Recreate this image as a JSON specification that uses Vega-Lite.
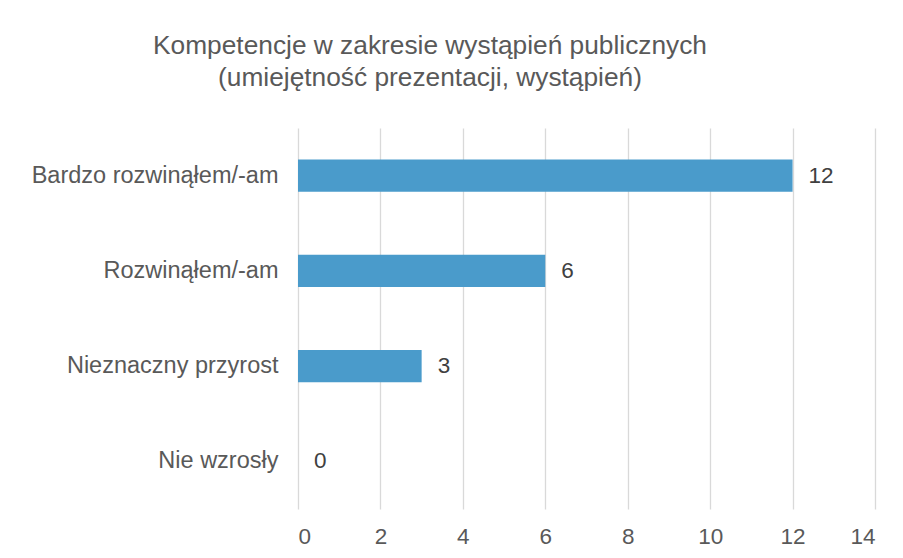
{
  "$schema": "https://vega.github.io/schema/vega-lite/v6.json",
  "width": 577,
  "height": 381,
  "autosize": {"type": "none"},
  "padding": {"left": 298, "top": 128, "right": 28, "bottom": 49},
  "background": "white",
  "config": {
    "view": {"stroke": null},
    "font": "Liberation Sans"
  },
  "title": {
    "text": ["Kompetencje w zakresie wystąpień publicznych", "(umiejętność prezentacji, wystąpień)"],
    "anchor": "start",
    "frame": "group",
    "align": "center",
    "dx": 132,
    "fontSize": 26.3,
    "fontWeight": "normal",
    "color": "#595959",
    "font": "Liberation Sans",
    "lineHeight": 32,
    "offset": 37
  },
  "data": {
    "values": [
      {"kategoria": "Bardzo rozwinąłem/-am", "liczba": 12},
      {"kategoria": "Rozwinąłem/-am\u00a0", "liczba": 6},
      {"kategoria": "Nieznaczny przyrost", "liczba": 3},
      {"kategoria": "Nie wzrosły", "liczba": 0}
    ]
  },
  "encoding": {
    "y": {
      "field": "kategoria",
      "type": "nominal",
      "sort": null,
      "scale": {"paddingInner": 0.66, "paddingOuter": 0.33},
      "axis": {
        "title": null,
        "domain": false,
        "ticks": false,
        "labelFontSize": 23.5,
        "labelLimit": 400,
        "labelColor": "#595959",
        "labelPadding": 20,
        "labelFont": "Liberation Sans"
      }
    },
    "x": {
      "field": "liczba",
      "type": "quantitative",
      "scale": {"domain": [0, 14], "nice": false},
      "axis": {
        "title": null,
        "values": [0, 2, 4, 6, 8, 10, 12, 14],
        "domain": false,
        "ticks": false,
        "grid": true,
        "gridColor": "#d9d9d9",
        "gridWidth": 1.3,
        "labelFontSize": 22.5,
        "labelColor": "#595959",
        "labelPadding": 16,
        "labelFont": "Liberation Sans"
      }
    }
  },
  "layer": [
    {"mark": {"type": "bar", "color": "#4a9bcb"}},
    {
      "mark": {"type": "text", "align": "left", "baseline": "middle", "dx": 16, "fontSize": 22.5, "color": "#404040", "font": "Liberation Sans"},
      "encoding": {"text": {"field": "liczba", "type": "quantitative"}}
    }
  ]
}
